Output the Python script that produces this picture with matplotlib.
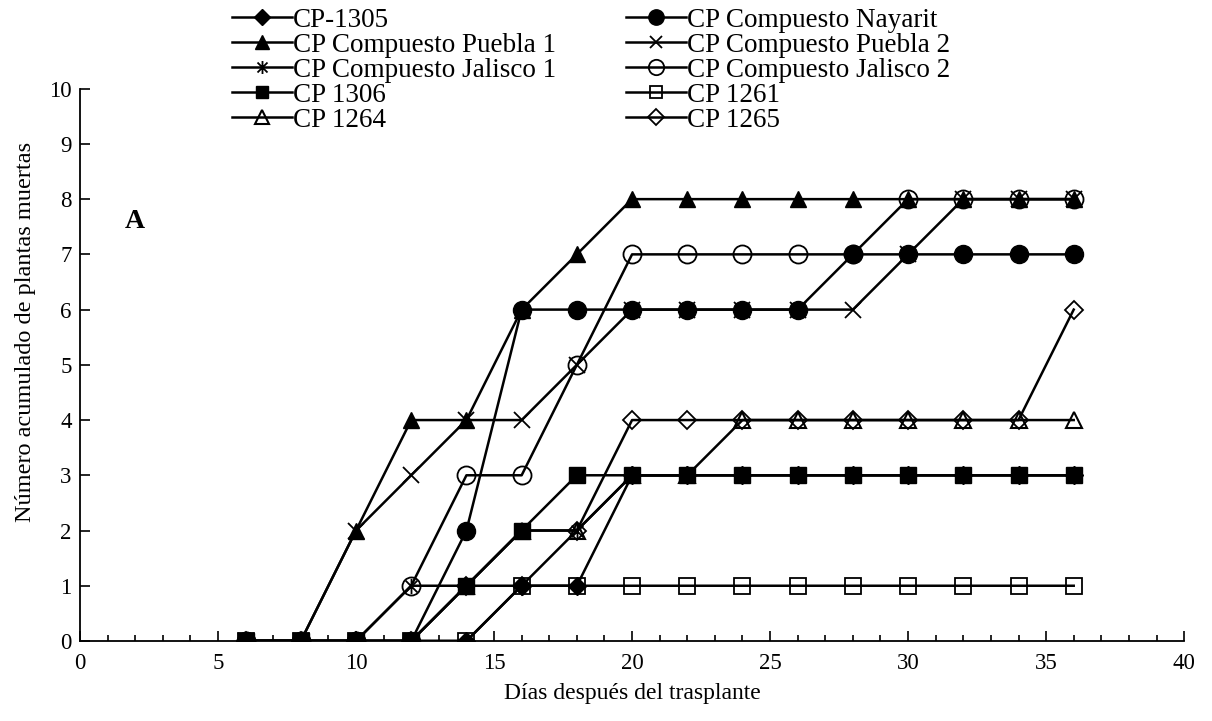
import numpy as np
import matplotlib.pyplot as plt
from matplotlib.path import Path
from matplotlib.ticker import MultipleLocator

plt.rcParams['font.family'] = ['Liberation Serif', 'DejaVu Serif']

dias = [6, 8, 10, 12, 14, 16, 18, 20, 22, 24, 26, 28, 30, 32, 34, 36]

cp_1305 = [0, 0, 0, 0, 0, 1, 1, 3, 3, 3, 3, 3, 3, 3, 3, 3]
nayarit = [0, 0, 0, 0, 2, 6, 6, 6, 6, 6, 6, 7, 7, 7, 7, 7]
puebla_1 = [0, 0, 2, 4, 4, 6, 7, 8, 8, 8, 8, 8, 8, 8, 8, 8]
puebla_2 = [0, 0, 2, 3, 4, 4, 5, 6, 6, 6, 6, 6, 7, 8, 8, 8]
jalisco_1 = [0, 0, 0, 1, 1, 2, 2, 3, 3, 3, 3, 3, 3, 3, 3, 3]
jalisco_2 = [0, 0, 0, 1, 3, 3, 5, 7, 7, 7, 7, 7, 8, 8, 8, 8]
cp_1306 = [0, 0, 0, 0, 1, 2, 3, 3, 3, 3, 3, 3, 3, 3, 3, 3]
cp_1261 = [0, 0, 0, 0, 0, 1, 1, 1, 1, 1, 1, 1, 1, 1, 1, 1]
cp_1264 = [0, 0, 0, 0, 1, 2, 2, 3, 3, 4, 4, 4, 4, 4, 4, 4]
cp_1265 = [0, 0, 0, 0, 1, 1, 2, 4, 4, 4, 4, 4, 4, 4, 4, 6]

labels = ['CP-1305', 'CP Compuesto Nayarit', 'CP Compuesto Puebla 1',
          'CP Compuesto Puebla 2', 'CP Compuesto Jalisco 1',
          'CP Compuesto Jalisco 2', 'CP 1306', 'CP 1261', 'CP 1264', 'CP 1265']

# excel style asterisk: an x with a vertical bar
asterisk = Path([(-1, -1), (1, 1), (-1, 1), (1, -1), (0, -1.3), (0, 1.3)],
                [Path.MOVETO, Path.LINETO, Path.MOVETO, Path.LINETO,
                 Path.MOVETO, Path.LINETO])

series = [cp_1305, nayarit, puebla_1, puebla_2, jalisco_1,
          jalisco_2, cp_1306, cp_1261, cp_1264, cp_1265]
styles = [
    dict(marker='D', ms=9, mfc='black'),
    dict(marker='o', ms=13, mfc='black'),
    dict(marker='^', ms=12, mfc='black'),
    dict(marker='x', ms=11, mew=1.3),
    dict(marker=asterisk, ms=11, mew=1.3),
    dict(marker='o', ms=13, mfc='none', mew=1.3),
    dict(marker='s', ms=11, mfc='black'),
    dict(marker='s', ms=11, mfc='none', mew=1.3),
    dict(marker='^', ms=12, mfc='none', mew=1.5),
    dict(marker='D', ms=9, mfc='none', mew=1.3),
]

fig = plt.figure(figsize=(12.12, 7.21), dpi=100)
ax = fig.add_axes([0.066, 0.111, 0.911, 0.766])

lines = []
for vals, lab, st in zip(series, labels, styles):
    ln, = ax.plot(dias, vals, color='black', lw=1.8, mec='black', label=lab, **st)
    lines.append(ln)

ax.set_xlim(0, 40)
ax.set_ylim(0, 10)
ax.xaxis.set_major_locator(MultipleLocator(5))
ax.xaxis.set_minor_locator(MultipleLocator(1))
ax.yaxis.set_major_locator(MultipleLocator(1))
ax.tick_params(which='both', direction='in', labelsize=16.5, width=1.2)
ax.tick_params(which='major', length=7)
ax.tick_params(which='minor', length=4)
ax.tick_params(axis='x', pad=9)
ax.tick_params(axis='y', pad=6)
ax.spines['top'].set_visible(False)
ax.spines['right'].set_visible(False)
ax.spines['left'].set_linewidth(1.3)
ax.spines['bottom'].set_linewidth(1.3)

ax.set_xlabel('Días después del trasplante', fontsize=17, labelpad=6)
ax.set_ylabel('Número acumulado de plantas muertas', fontsize=17.5)
ax.yaxis.set_label_coords(-0.04, 0.56)
ax.text(2, 7.6, 'A', fontsize=20, fontweight='bold', ha='center', va='center')

# legend filled row by row, like the original
order = [0, 2, 4, 6, 8, 1, 3, 5, 7, 9]
fig.legend([lines[i] for i in order], [labels[i] for i in order],
           loc='upper left', bbox_to_anchor=(0.178, 1.012), ncol=2, frameon=False,
           fontsize=19.5, handlelength=2.2, handletextpad=0.05, columnspacing=2.6,
           labelspacing=0.0, borderaxespad=0.2, markerscale=0.85)

fig.savefig('out.png', dpi=100)
